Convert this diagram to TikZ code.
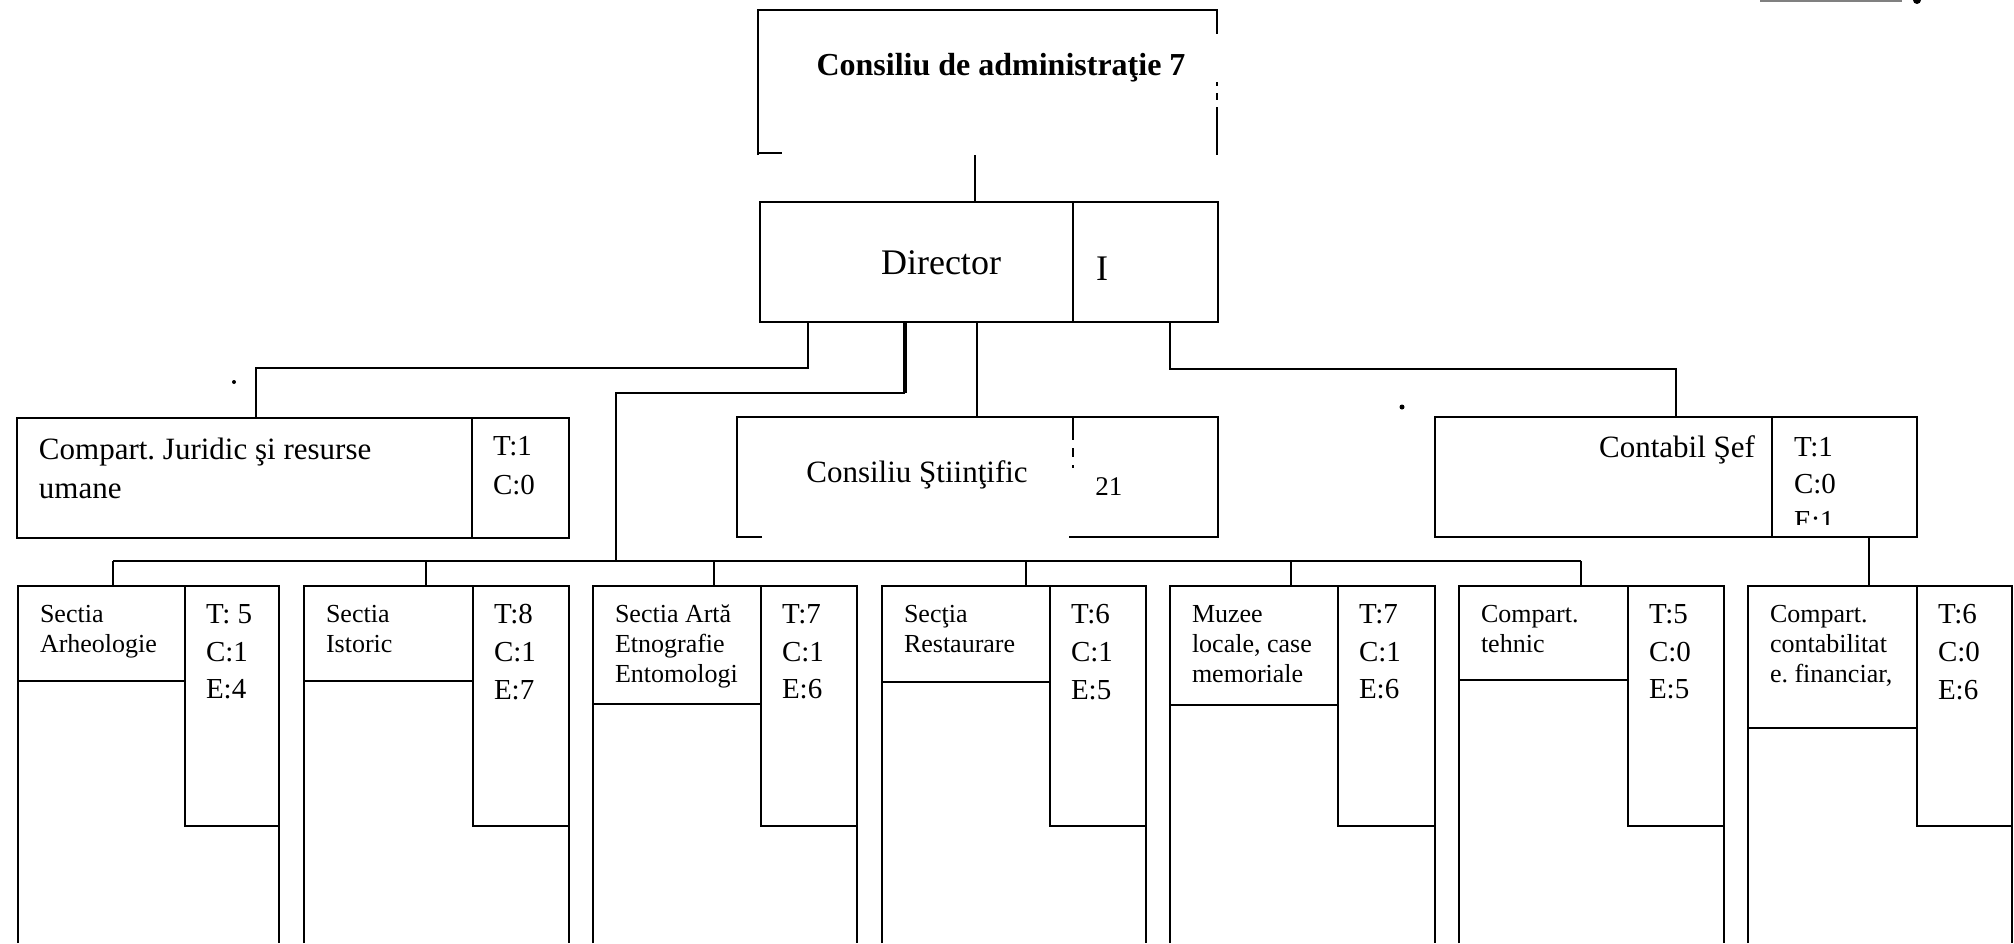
\documentclass[tikz,border=0pt]{standalone}
\usepackage{fontspec}
\setmainfont{Liberation Serif}
\usetikzlibrary{fit}
\frenchspacing
\tikzset{
  ln/.style={line width=1.1pt},
  frame/.style={inner sep=0pt, outer sep=0pt},
  lbl/.style={inner sep=0pt, outer sep=0pt, anchor=north west, align=left},
  nmtext/.style={lbl, font=\fontsize{13}{15}\selectfont},
  tcetext/.style={lbl, font=\fontsize{14.5}{19}\selectfont},
  toptext/.style={lbl, font=\fontsize{15.5}{19.5}\selectfont},
  toptce/.style={lbl, font=\fontsize{14.5}{19.5}\selectfont},
}
% #1 name, #2 left x, #3 divider x, #4 right x, #5 header bottom y, #6 name text, #7 counts
\newcommand\secbox[7]{%
  \node[frame, fit={(#2,586) (#4,826)}] (#1) {};
  \draw[ln] (#2,943) -- (#2,586) -- (#4,586) -- (#4,943);
  \draw[ln] (#2,#5) -- (#3,#5);
  \draw[ln] (#3,586) -- (#3,826) -- (#4,826);
  \node[nmtext] (#1n) at (#2+22,605) {#6};
  \node[tcetext] (#1t) at (#3+21,604) {#7};
}
\begin{document}
\begin{tikzpicture}[x=0.5pt,y=-0.5pt]
\useasboundingbox (0,0) rectangle (2014,943);
\fill[white] (0,0) rectangle (2014,943);

% ---- Consiliu de administratie
\node[frame, fit={(758,10) (1217,155)}] (adm) {};
\draw[ln] (758,155) -- (758,10) -- (1217,10) -- (1217,34);
\draw[ln] (758,153) -- (782,153);
\draw[ln] (1217,82) -- (1217,86);
\draw[ln] (1217,93) -- (1217,100);
\draw[ln] (1217,107) -- (1217,155);
\node[inner sep=0pt, anchor=base, font=\bfseries\fontsize{16}{19}\selectfont] (admt) at (1001,75) {Consiliu de administraţie 7};

% ---- Director
\node[frame, fit={(760,202) (1218,322)}] (dir) {};
\draw[ln] (760,202) rectangle (1218,322);
\draw[ln] (1073,202) -- (1073,322);
\node[inner sep=0pt, anchor=base, font=\fontsize{18}{21}\selectfont] (dirt) at (941,274) {Director};
\node[inner sep=0pt, anchor=base, font=\fontsize{18}{21}\selectfont] (dirn) at (1102,280) {I};

% ---- Compart. Juridic
\node[frame, fit={(17,418) (569,538)}] (jur) {};
\draw[ln] (17,418) rectangle (569,538);
\draw[ln] (472,418) -- (472,538);
\node[toptext] (jurt) at (39,438) {Compart. Juridic şi resurse\\umane};
\node[toptce] (jurn) at (493,436) {T:1\\C:0};

% ---- Consiliu Stiintific
\node[frame, fit={(737,417) (1218,537)}] (sci) {};
\draw[ln] (762,537) -- (737,537) -- (737,417) -- (1218,417) -- (1218,537) -- (1069,537);
\draw[ln] (1073,417) -- (1073,440);
\draw[ln] (1073,448) -- (1073,457);
\draw[ln] (1073,465) -- (1073,468);
\node[inner sep=0pt, anchor=base, font=\fontsize{15.5}{19}\selectfont] (scit) at (917,482) {Consiliu Ştiinţific};
\node[inner sep=0pt, anchor=base west, font=\fontsize{13.5}{16}\selectfont] (scin) at (1095,495) {21};

% ---- Contabil Sef
\node[frame, fit={(1435,417) (1917,537)}] (cont) {};
\draw[ln] (1435,417) rectangle (1917,537);
\draw[ln] (1772,417) -- (1772,537);
\node[lbl, anchor=north east, font=\fontsize{15.5}{19}\selectfont] (contt) at (1755,436) {Contabil Şef};
\begin{scope}
  \clip (1773,418) rectangle (1916,524);
  \node[lbl, font=\fontsize{14.5}{18.5}\selectfont] (contn) at (1794,437) {T:1\\C:0\\E:1};
\end{scope}

% ---- section boxes
\secbox{s1}{18}{185}{279}{681}{Sectia\\Arheologie}{T: 5\\C:1\\E:4}
\secbox{s2}{304}{473}{569}{681}{Sectia\\Istoric}{T:8\\C:1\\E:7}
\secbox{s3}{593}{761}{857}{704}{Sectia Artă\\Etnografie\\Entomologi}{T:7\\C:1\\E:6}
\secbox{s4}{882}{1050}{1146}{682}{Secţia\\Restaurare}{T:6\\C:1\\E:5}
\secbox{s5}{1170}{1338}{1435}{705}{Muzee\\locale, case\\memoriale}{T:7\\C:1\\E:6}
\secbox{s6}{1459}{1628}{1724}{680}{Compart.\\tehnic}{T:5\\C:0\\E:5}
\secbox{s7}{1748}{1917}{2012}{728}{Compart.\\contabilitat\\e. financiar,}{T:6\\C:0\\E:6}

% ---- connectors
\coordinate (xa) at (975,0);
\draw[ln] (adm.south -| xa) -- (dir.north -| xa);

\coordinate (k1) at (808,368);
\coordinate (k2) at (256,368);
\draw[ln] (dir.south -| k1) -- (k1) -- (k2) -- (k2 |- jur.north);

\coordinate (busL) at (113,561);
\coordinate (busR) at (1581,561);
\coordinate (m1) at (905,393);
\coordinate (m2) at (616,393);
\draw[line width=1.6pt] (dir.south -| m1) -- (m1);
\draw[ln] (m1) -- (m2) -- (m2 |- busL);

\coordinate (xs) at (977,0);
\draw[ln] (dir.south -| xs) -- (sci.north -| xs);

\coordinate (n1) at (1170,369);
\coordinate (n2) at (1676,369);
\draw[ln] (dir.south -| n1) -- (n1) -- (n2) -- (n2 |- cont.north);

\coordinate (xc) at (1869,0);
\draw[ln] (cont.south -| xc) -- (s7.north -| xc);

\draw[ln] (busL) -- (busR);
\draw[ln] (busL) -- (busL |- s1.north);
\coordinate (d2) at (426,561);
\draw[ln] (d2) -- (d2 |- s2.north);
\coordinate (d3) at (714,561);
\draw[ln] (d3) -- (d3 |- s3.north);
\coordinate (d4) at (1026,561);
\draw[ln] (d4) -- (d4 |- s4.north);
\coordinate (d5) at (1291,561);
\draw[ln] (d5) -- (d5 |- s5.north);
\draw[ln] (busR) -- (busR |- s6.north);

% ---- stray marks of the original
\fill (234,382) circle (2);
\fill (1402,407) circle (2.5);
\draw[gray, line width=0.6pt] (1760,1) -- (1902,1);
\fill (1917,0) circle (4);
\end{tikzpicture}
\end{document}
